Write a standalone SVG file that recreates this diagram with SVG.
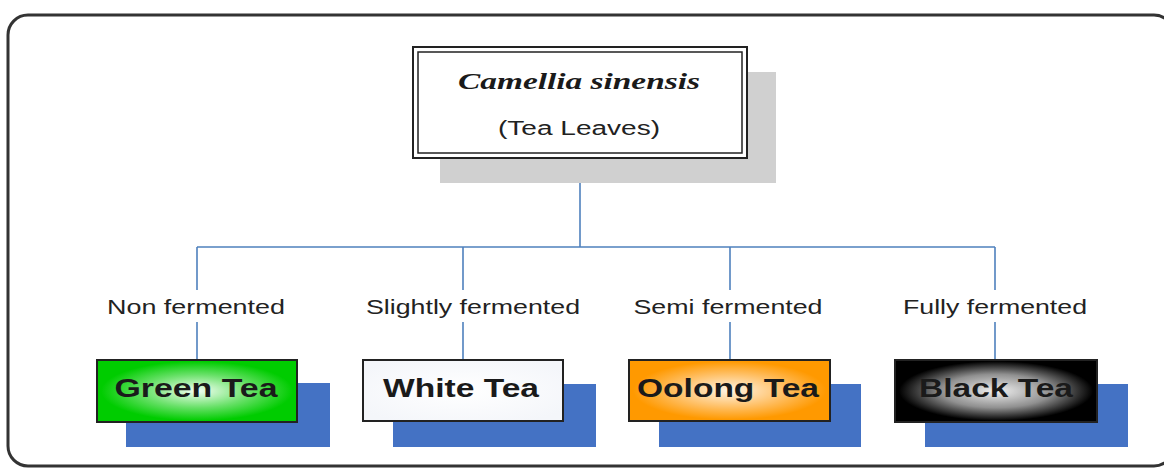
<svg xmlns="http://www.w3.org/2000/svg" width="1164" height="469" viewBox="0 0 1164 469">
<defs>
<radialGradient id="gGreen" cx="50%" cy="50%" r="60%"><stop offset="0" stop-color="#f4fff4"/><stop offset="0.45" stop-color="#66e066"/><stop offset="0.8" stop-color="#00cc00"/></radialGradient>
<radialGradient id="gWhite" cx="50%" cy="50%" r="60%"><stop offset="0" stop-color="#ffffff"/><stop offset="1" stop-color="#f4f6fa"/></radialGradient>
<radialGradient id="gOrange" cx="50%" cy="50%" r="60%"><stop offset="0" stop-color="#fff4e6"/><stop offset="0.45" stop-color="#ffc066"/><stop offset="0.8" stop-color="#ff9900"/></radialGradient>
<radialGradient id="gBlack" cx="50%" cy="50%" r="60%"><stop offset="0" stop-color="#f0f0f0"/><stop offset="0.45" stop-color="#909090"/><stop offset="0.8" stop-color="#000000"/></radialGradient>
<style>
.frame{fill:#fff;stroke:#333;stroke-width:3}
.shadowB{fill:#4472c4}
.box{stroke:#222;stroke-width:2}
.conn{fill:none;stroke:#4f81bd;stroke-width:1.6}
.lbl{font-family:"Liberation Sans",Arial,sans-serif;font-size:20px;fill:#222;text-anchor:middle}
.tea{font-family:"Liberation Sans",Arial,sans-serif;font-size:26px;font-weight:bold;fill:#1a1a1a;text-anchor:middle}
</style>
</defs>
<rect class="frame" x="8" y="15" width="1166" height="451" rx="20"/>
<g id="connectors">
<path class="conn" d="M580 158V247M197 247H995M197 247V290M197 322V360M463 247V290M463 322V360M730 247V290M730 322V360M995 247V290M995 322V360"/>
</g>
<g id="root">
<rect x="440" y="72" width="336" height="111" fill="#d0d0d0"/>
<rect x="413" y="47" width="334" height="111" fill="#fff" stroke="#222" stroke-width="2"/>
<rect x="418" y="52" width="324" height="101" fill="none" stroke="#222" stroke-width="1.5"/>
<text x="579" y="89" font-family="'Liberation Serif','Times New Roman',serif" font-size="24" font-weight="bold" font-style="italic" fill="#1a1a1a" text-anchor="middle" textLength="242" lengthAdjust="spacingAndGlyphs">Camellia sinensis</text>
<text class="lbl" x="579" y="135" font-size="21" textLength="162" lengthAdjust="spacingAndGlyphs">(Tea Leaves)</text>
</g>
<g id="label-non"><text class="lbl" x="196" y="314" textLength="178" lengthAdjust="spacingAndGlyphs">Non fermented</text></g>
<g id="label-slightly"><text class="lbl" x="473" y="314" textLength="214" lengthAdjust="spacingAndGlyphs">Slightly fermented</text></g>
<g id="label-semi"><text class="lbl" x="728" y="314" textLength="189" lengthAdjust="spacingAndGlyphs">Semi fermented</text></g>
<g id="label-fully"><text class="lbl" x="995" y="314" textLength="184" lengthAdjust="spacingAndGlyphs">Fully fermented</text></g>
<g id="green">
<rect class="shadowB" x="126" y="383" width="204" height="64"/>
<rect class="box" x="97" y="360" width="200" height="62" fill="url(#gGreen)"/>
<text class="tea" x="196" y="397" textLength="163" lengthAdjust="spacingAndGlyphs">Green Tea</text>
</g>
<g id="white">
<rect class="shadowB" x="393" y="384" width="203" height="63"/>
<rect class="box" x="363" y="360" width="200" height="61" fill="url(#gWhite)"/>
<text class="tea" x="461" y="397" textLength="156" lengthAdjust="spacingAndGlyphs">White Tea</text>
</g>
<g id="oolong">
<rect class="shadowB" x="659" y="384" width="202" height="63"/>
<rect class="box" x="629" y="360" width="201" height="61" fill="url(#gOrange)"/>
<text class="tea" x="728" y="397" textLength="182" lengthAdjust="spacingAndGlyphs">Oolong Tea</text>
</g>
<g id="black">
<rect class="shadowB" x="925" y="384" width="203" height="63"/>
<rect class="box" x="895" y="360" width="202" height="62" fill="url(#gBlack)"/>
<text class="tea" x="996" y="397" textLength="154" lengthAdjust="spacingAndGlyphs">Black Tea</text>
</g>
</svg>
